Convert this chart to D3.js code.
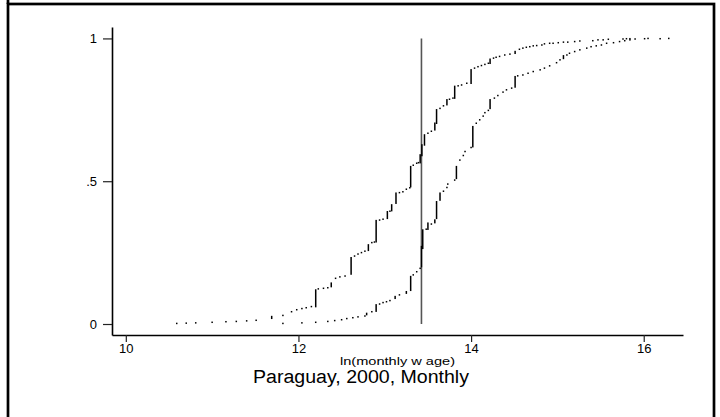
<!DOCTYPE html>
<html><head><meta charset="utf-8">
<script src="https://cdn.jsdelivr.net/npm/d3@7"></script>
<style>
html,body{margin:0;padding:0;background:#fff;}
svg{display:block;font-family:"Liberation Sans",Arial,sans-serif;}
</style></head>
<body>
<svg id="chart" width="720" height="417"></svg>
<script>
// Empirical CDF of ln(monthly wage): [x, F low, F high] (heaped values form vertical runs)
const seriesA = [
 [10.59,0.002],[10.70,0.003],[10.81,0.004],[11.00,0.006],[11.16,0.008],[11.28,0.009],[11.40,0.011],[11.51,0.013],
 [11.69,0.020,0.026],[11.82,0.030],[11.92,0.043],[11.98,0.050],[12.04,0.054],[12.09,0.057],[12.15,0.061],
 [12.20,0.061,0.119],[12.23,0.123],[12.29,0.125],[12.34,0.127],[12.38,0.131,0.143],[12.43,0.160],[12.48,0.165],
 [12.54,0.168],[12.61,0.175,0.232],[12.65,0.238],[12.69,0.245],[12.73,0.250],[12.77,0.255],[12.81,0.258,0.277],
 [12.85,0.285],[12.88,0.287],[12.90,0.288,0.362],[12.94,0.364],[12.98,0.367],[13.03,0.370,0.393],[13.06,0.395],
 [13.08,0.397,0.417],[13.13,0.423,0.458],[13.17,0.460],[13.21,0.463],[13.25,0.472],[13.29,0.477],[13.30,0.481,0.551],
 [13.33,0.556],[13.37,0.563],[13.39,0.565],[13.41,0.565,0.592],[13.43,0.590,0.627],[13.46,0.627,0.662],[13.50,0.668],
 [13.54,0.675],[13.58,0.680,0.703],[13.60,0.703,0.750],[13.64,0.755],[13.68,0.764],[13.72,0.768,0.785],[13.75,0.787],
 [13.79,0.791],[13.81,0.791,0.832],[13.85,0.834],[13.89,0.837],[13.95,0.843],[14.00,0.843,0.890],[14.04,0.896],
 [14.08,0.901],[14.12,0.905],[14.16,0.909],[14.20,0.913],[14.22,0.913,0.927],[14.26,0.931],[14.29,0.934],[14.33,0.937],
 [14.39,0.942],[14.45,0.945],[14.51,0.948,0.954],[14.56,0.962],[14.60,0.966],[14.64,0.969],[14.68,0.971],[14.72,0.974],
 [14.76,0.975],[14.82,0.977],[14.85,0.981],[14.91,0.983],[14.95,0.983],[15.01,0.985],[15.07,0.987],[15.12,0.987],
 [15.20,0.989],[15.26,0.991],[15.41,0.992],[15.47,0.995],[15.53,0.995],[15.59,0.997],[15.76,0.998],[15.80,0.999],
 [15.84,0.999],[16.01,0.999],[16.05,1.0]
];
const seriesB = [
 [11.82,0.002],[12.04,0.004],[12.20,0.006],[12.34,0.009],[12.42,0.012],[12.50,0.015],[12.56,0.019],[12.63,0.022],
 [12.69,0.025],[12.77,0.028],[12.79,0.033,0.037],[12.85,0.043],[12.90,0.045,0.067],[12.94,0.070],[12.98,0.075],
 [13.02,0.078],[13.06,0.082],[13.12,0.090,0.096],[13.17,0.102],[13.25,0.108,0.113],[13.30,0.118,0.166],[13.33,0.172],
 [13.37,0.183],[13.41,0.195],[13.425,0.201,0.271],[13.44,0.265,0.329],[13.48,0.332],[13.50,0.332,0.353],[13.54,0.350],
 [13.58,0.355,0.364],[13.60,0.370,0.428],[13.64,0.434,0.458],[13.68,0.465],[13.72,0.478],[13.73,0.490],[13.81,0.504],
 [13.83,0.510,0.551],[13.87,0.574],[13.91,0.590],[13.93,0.604],[14.00,0.618],[14.02,0.621,0.691],[14.06,0.703],
 [14.10,0.715],[14.14,0.728],[14.16,0.740],[14.20,0.748],[14.22,0.755,0.785],[14.27,0.791],[14.31,0.800],[14.37,0.812],
 [14.41,0.820],[14.47,0.826],[14.51,0.830,0.866],[14.54,0.869],[14.60,0.872],[14.66,0.878],[14.72,0.884],[14.80,0.890],
 [14.85,0.896],[14.91,0.904],[14.99,0.915],[15.03,0.925],[15.07,0.930,0.939],[15.11,0.942],[15.14,0.948],[15.20,0.954],
 [15.26,0.960],[15.34,0.966],[15.39,0.971],[15.45,0.974],[15.51,0.977],[15.57,0.983],[15.65,0.985],[15.72,0.989],
 [15.78,0.992],[15.84,0.995],[15.90,0.998],[16.19,0.999],[16.29,1.0]
];
const cutoff = 13.425;
const xTicks = [10, 12, 14, 16];
const yTicks = [0, 0.5, 1];
const yTickLabels = ["0", ".5", "1"];
const xTitle = "ln(monthly w age)";
const chartTitle = "Paraguay, 2000, Monthly";

const svg = d3.select("#chart");
svg.append("rect").attr("x",0).attr("y",0).attr("width",720).attr("height",417).attr("fill","#fff");

// outer frame
svg.append("rect").attr("x",8).attr("y",4).attr("width",706).attr("height",440)
  .attr("fill","none").attr("stroke","#000").attr("stroke-width",2.7);
svg.append("line").attr("x1",8).attr("x2",8).attr("y1",0).attr("y2",4)
  .attr("stroke","#000").attr("stroke-width",2.7);

const x = d3.scaleLinear().domain([9.84, 16.455]).range([112, 683]);
const y = d3.scaleLinear().domain([-0.0385, 1.04]).range([335, 27]);

// axes
const gy = svg.append("g").attr("transform","translate(112,0)")
  .call(d3.axisLeft(y).tickValues(yTicks).tickFormat((d,i)=>yTickLabels[i]).tickSize(9).tickSizeOuter(0).tickPadding(6));
const gx = svg.append("g").attr("transform","translate(0,335)")
  .call(d3.axisBottom(x).tickValues(xTicks).tickFormat(d3.format("d")).tickSize(7).tickSizeOuter(0).tickPadding(2));
[gy,gx].forEach(g=>{
  g.select(".domain").attr("stroke","#000").attr("stroke-width",1.6);
  g.selectAll(".tick line").attr("stroke","#222").attr("stroke-width",1.2);
  g.selectAll(".tick text").attr("fill","#000").attr("font-size",13)
    .attr("font-family",'"Liberation Sans",Arial,sans-serif');
});

// cutoff line
svg.append("line").attr("x1",x(cutoff)).attr("x2",x(cutoff)).attr("y1",y(1)).attr("y2",y(0))
  .attr("stroke","#555").attr("stroke-width",1.6);

// cdf marks
function drawSeries(data){
  svg.append("g").selectAll("rect").data(data).join("rect")
    .attr("x", d => x(d[0]) - 0.75)
    .attr("width", 1.5)
    .attr("y", d => y(d.length > 2 ? d[2] : d[1]) - 0.75)
    .attr("height", d => d.length > 2 ? (y(d[1]) - y(d[2])) + 1.5 : 1.5)
    .attr("fill", "#000");
}
drawSeries(seriesA);
drawSeries(seriesB);

// titles
svg.append("text").attr("x",397.5).attr("y",365).attr("text-anchor","middle")
  .attr("font-size",11.5).attr("textLength",115).attr("lengthAdjust","spacingAndGlyphs")
  .attr("fill","#000").text(xTitle);
svg.append("text").attr("x",361).attr("y",383).attr("text-anchor","middle")
  .attr("font-size",18).attr("textLength",216).attr("lengthAdjust","spacingAndGlyphs")
  .attr("fill","#000").text(chartTitle);
</script>
</body></html>
